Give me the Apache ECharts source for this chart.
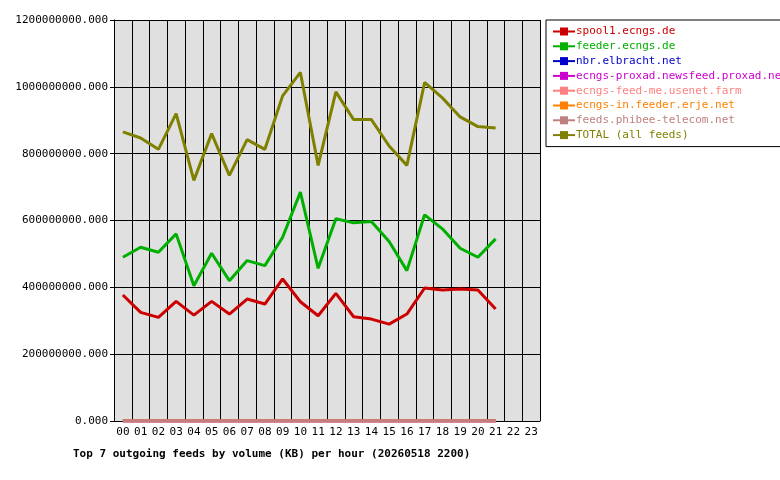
<!DOCTYPE html>
<html><head><meta charset="utf-8">
<script src="https://cdn.jsdelivr.net/npm/echarts@6/dist/echarts.min.js"></script>
<style>html,body{margin:0;padding:0;background:#fff}#c{width:780px;height:480px}</style>
</head><body><div id="c"></div>
<script>
const hours = ['00','01','02','03','04','05','06','07','08','09','10','11','12','13','14','15','16','17','18','19','20','21','22','23'];
const spool1 = [377,325,310,358,317,358,320,365,350,425,357,315,382,312,305,290,320,398,392,395,392,335];
const feeder = [490,520,505,560,405,502,420,480,465,550,685,457,605,593,597,537,450,617,575,517,490,545];
const nbr = [0,0,0,0,0,0,0,0,0,0,0,0,0,0,0,0,0,0,0,0,0,0];
const proxad = [0,0,0,0,0,0,0,0,0,0,0,0,0,0,0,0,0,0,0,0,0,0];
const usenetFarm = [0,0,0,0,0,0,0,0,0,0,0,0,0,0,0,0,0,0,0,0,0,0];
const erje = [0,0,0,0,0,0,0,0,0,0,0,0,0,0,0,0,0,0,0,0,0,0];
const phibee = [0,0,0,0,0,0,0,0,0,0,0,0,0,0,0,0,0,0,0,0,0,0];
const total = [865,847,813,920,720,860,735,842,813,973,1043,765,985,902,902,823,765,1013,967,910,881,877];
const names = ['spool1.ecngs.de','feeder.ecngs.de','nbr.elbracht.net','ecngs-proxad.newsfeed.proxad.net','ecngs-feed-me.usenet.farm','ecngs-in.feeder.erje.net','feeds.phibee-telecom.net','TOTAL (all feeds)'];
const colors = ['#cc0000','#00b000','#0000cc','#cc00cc','#ff8080','#ff8000','#c08080','#808000'];
const datas = [spool1,feeder,nbr,proxad,usenetFarm,erje,phibee,total];
const order = [7,1,0,2,3,4,5,6];
const font = 'DejaVu Sans Mono';
const chart = echarts.init(document.getElementById('c'));
chart.setOption({
  animation:false,
  textStyle:{fontFamily:font},
  title:{text:'Top 7 outgoing feeds by volume (KB) per hour (20260518 2200)',left:68,top:444,
    textStyle:{fontFamily:font,fontSize:11,fontWeight:'bold',color:'#000'}},
  grid:{left:114,top:20,width:426,height:401},
  legend:{orient:'vertical',left:546,top:20,width:224,height:132,padding:[6,6,6,6],itemGap:3.8,
    borderColor:'#000',borderWidth:1,itemWidth:22,itemHeight:10,
    data:names.map((n,i)=>({name:n,textStyle:{color:colors[i]}})),
    textStyle:{fontFamily:font,fontSize:11,padding:[0,0,0,-4]}},
  xAxis:{type:'category',data:hours,boundaryGap:true,
    axisLine:{lineStyle:{color:'#000'}},axisTick:{show:false},
    axisLabel:{color:'#000',fontFamily:font,fontSize:11,interval:0,margin:6},
    splitLine:{show:true,interval:0,lineStyle:{color:'#000'}},splitArea:{show:false}},
  yAxis:{type:'value',min:0,max:1200,interval:200,
    axisLine:{show:true,lineStyle:{color:'#000'}},axisTick:{show:true,length:4,lineStyle:{color:'#000'}},
    axisLabel:{color:'#000',fontFamily:font,fontSize:11,formatter:v=>(v*1000000).toFixed(3),margin:6},
    splitLine:{lineStyle:{color:'#000'}}},
  graphic:[{type:'rect',left:114,top:20,shape:{width:426,height:401},style:{fill:'#e0e0e0'},z:-10}],
  series:order.map(i=>({name:names[i],type:'line',data:datas[i],symbol:'rect',symbolSize:1,showSymbol:false,
    itemStyle:{color:colors[i]},lineStyle:{color:colors[i],width:3},z:3}))
});
</script></body></html>
